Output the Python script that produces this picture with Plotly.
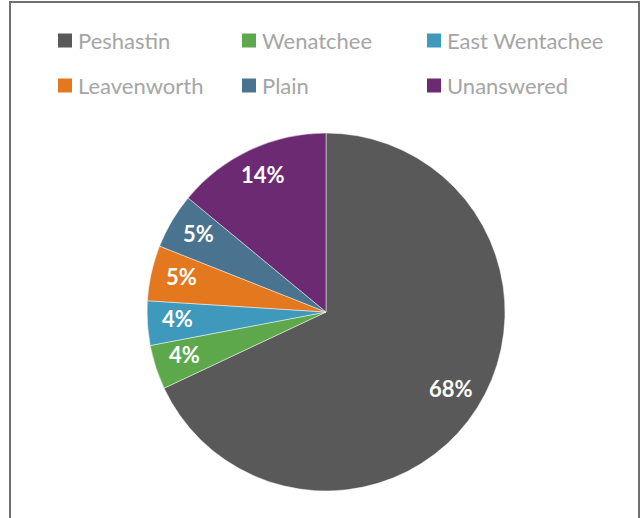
import math
import plotly.graph_objects as go

labels = ["Peshastin", "Wenatchee", "East Wentachee", "Leavenworth", "Plain", "Unanswered"]
values = [68, 4, 4, 5, 5, 14]
colors = ["#595959", "#5da84b", "#3e99bd", "#e3781f", "#4a7390", "#6b2a72"]

W, H = 642, 518
cx, cy, R = 326, 312, 179

fig = go.Figure()
fig.add_trace(go.Pie(
    labels=labels,
    values=values,
    sort=False,
    direction="clockwise",
    rotation=0,
    marker=dict(colors=colors, line=dict(color="rgba(255,255,255,0.6)", width=0.8)),
    textinfo="none",
    domain=dict(x=[(cx - R) / W, (cx + R) / W], y=[1 - (cy + R) / H, 1 - (cy - R) / H]),
    showlegend=False,
    hoverinfo="label+percent",
))

shapes = [dict(type="rect", xref="paper", yref="paper",
               x0=10 / W, x1=639 / W, y0=-0.05, y1=1 - 2 / H,
               line=dict(color="#707070", width=2), fillcolor="rgba(0,0,0,0)")]
annotations = []

# data labels placed along each slice's mid angle
total = sum(values)
cum = 0
for v in values:
    mid = (cum + v / 2) / total
    cum += v
    theta = 2 * math.pi * mid
    r = 0.83 * R
    px = cx + r * math.sin(theta)
    py = cy - r * math.cos(theta) - 3
    annotations.append(dict(text=f"{round(100 * v / total)}%", xref="paper", yref="paper",
                            x=px / W, y=1 - py / H, xanchor="center", yanchor="middle",
                            showarrow=False,
                            font=dict(family="Lato", size=22, color="white", weight="bold")))

# legend (3 columns x 2 rows)
col_x = [58, 242, 427]
row_y = [40.5, 85.5]
for i, (lab, col) in enumerate(zip(labels, colors)):
    c, r = i % 3, i // 3
    x0 = col_x[c]
    y = row_y[r]
    shapes.append(dict(type="rect", xref="paper", yref="paper",
                       x0=x0 / W, x1=(x0 + 14) / W,
                       y0=1 - (y + 7) / H, y1=1 - (y - 7) / H,
                       line=dict(width=0), fillcolor=col))
    annotations.append(dict(text=lab, xref="paper", yref="paper",
                            x=(x0 + 18) / W, y=1 - y / H,
                            xanchor="left", yanchor="middle", showarrow=False,
                            font=dict(family="Lato", size=22, color="#a5a5a5")))

fig.update_layout(
    width=W, height=H,
    margin=dict(l=0, r=0, t=0, b=0),
    paper_bgcolor="white",
    plot_bgcolor="white",
    shapes=shapes,
    annotations=annotations,
)

fig.write_html("out.html", config={"displayModeBar": False},
               post_script="document.body.style.margin='0';")
